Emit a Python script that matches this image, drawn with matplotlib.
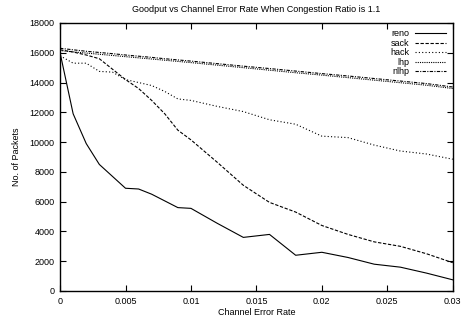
import matplotlib.pyplot as plt

plt.rcParams['font.family'] = ['Liberation Sans', 'DejaVu Sans']

# tasa de error del canal
error_rate = [0, 0.001, 0.002, 0.003, 0.004, 0.005, 0.006, 0.007, 0.008, 0.009, 0.010,
              0.012, 0.014, 0.016, 0.018, 0.020, 0.022, 0.024, 0.026, 0.028, 0.030]

reno = [16000, 11900, 9900, 8500, 7700, 6900, 6850, 6500, 6050, 5600, 5550,
        4550, 3600, 3800, 2400, 2600, 2250, 1800, 1600, 1200, 750]
sack = [16200, 16050, 15850, 15600, 14900, 14200, 13600, 12800, 11900, 10800, 10150,
        8650, 7100, 5950, 5300, 4400, 3800, 3300, 3000, 2500, 1900]
hack = [15800, 15300, 15300, 14750, 14700, 14200, 14000, 13800, 13400, 12900, 12800,
        12400, 12050, 11500, 11200, 10400, 10300, 9800, 9400, 9200, 8850]
lhp = [16150, 16060, 15980, 15900, 15820, 15740, 15660, 15580, 15500, 15420, 15340,
       15170, 15000, 14830, 14660, 14500, 14330, 14160, 13990, 13820, 13600]
nlhp = [16300, 16200, 16100, 16020, 15940, 15850, 15770, 15690, 15600, 15520, 15440,
        15270, 15100, 14940, 14770, 14600, 14440, 14270, 14100, 13930, 13700]

fig = plt.figure(figsize=(4.62, 3.22), dpi=100)
ax = fig.add_axes([0.13, 0.0963, 0.85, 0.8323])

lw = 0.8
ax.plot(error_rate, reno, color='black', lw=lw, label='reno')
ax.plot(error_rate, sack, color='black', lw=lw, dashes=(3, 1.5), label='sack')
ax.plot(error_rate, hack, color='black', lw=lw, dashes=(1, 2), label='hack')
ax.plot(error_rate, lhp, color='black', lw=lw, dashes=(1, 1), label='lhp')
ax.plot(error_rate, nlhp, color='black', lw=lw, dashes=(3, 1.2, 1, 1.2), label='nlhp')

ax.set_xlim(0, 0.03)
ax.set_ylim(0, 18000)
ax.set_xticks([0, 0.005, 0.01, 0.015, 0.02, 0.025, 0.03])
ax.set_xticklabels(['0', '0.005', '0.01', '0.015', '0.02', '0.025', '0.03'])
ax.set_yticks(range(0, 18001, 2000))
ax.tick_params(direction='in', top=True, right=True, labelsize=6.5, length=4, width=0.8, pad=4)
for s in ax.spines.values():
    s.set_linewidth(1.0)

ax.set_title('Goodput vs Channel Error Rate When Congestion Ratio is 1.1', fontsize=6.5, pad=8)
ax.set_xlabel('Channel Error Rate', fontsize=6.5, labelpad=2)
ax.set_ylabel('No. of Packets', fontsize=6.5, labelpad=6)

leg = ax.legend(loc='upper right', frameon=False, markerfirst=False, fontsize=6.5,
                handlelength=3.5, handletextpad=0.6, labelspacing=0.05, borderaxespad=0.3)

# etiquetas de la leyenda alineadas a la derecha, como en gnuplot
for col in leg._legend_handle_box.get_children():
    col.align = 'right'

fig.savefig('out.png', dpi=100)
